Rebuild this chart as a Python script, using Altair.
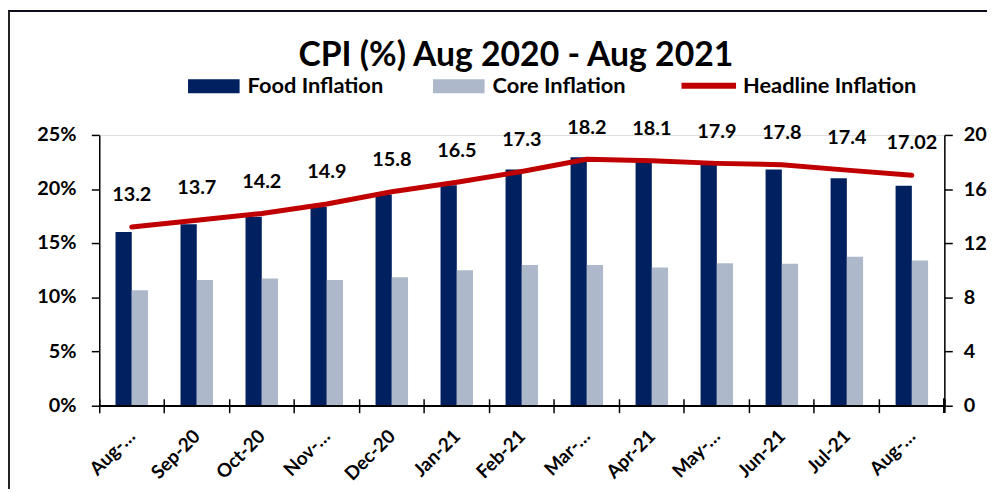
import altair as alt
import pandas as pd

months = ["Aug-20", "Sep-20", "Oct-20", "Nov-20", "Dec-20", "Jan-21", "Feb-21",
          "Mar-21", "Apr-21", "May-21", "Jun-21", "Jul-21", "Aug-21"]
food = [16.05, 16.75, 17.45, 18.35, 19.5, 20.35, 21.8, 22.95, 22.6, 22.3, 21.8, 21.0, 20.3]
core = [10.65, 11.6, 11.75, 11.6, 11.85, 12.5, 13.0, 13.0, 12.75, 13.15, 13.1, 13.75, 13.4]
headline = [13.2, 13.7, 14.2, 14.9, 15.8, 16.5, 17.3, 18.2, 18.1, 17.9, 17.8, 17.4, 17.02]
truncated = ["Aug-20", "Nov-20", "Mar-21", "May-21", "Aug-21"]
series_names = ["Food Inflation", "Core Inflation"]
line_name = "Headline Inflation"
left_ticks = [0, 5, 10, 15, 20, 25]
right_ticks = [0, 4, 8, 12, 16, 20]

FONT = "Lato"
W, H = 852, 273

bar_df = pd.DataFrame({
    "month": months * 2,
    "series": [series_names[0]] * len(months) + [series_names[1]] * len(months),
    "value": food + core,
})
line_df = pd.DataFrame({"month": months, "headline": headline, "series": line_name})
tick_df = pd.DataFrame({"value": left_ticks, "label": [f"{t}%" for t in left_ticks]})

trunc_list = ",".join("'" + t + "'" for t in truncated)
label_expr = f"indexof([{trunc_list}], datum.label) >= 0 ? slice(datum.label, 0, 4) + '\u2026' : datum.label"

x_enc = alt.X(
    "month:N", sort=months,
    scale=alt.Scale(paddingInner=0, paddingOuter=0),
    axis=alt.Axis(
        title=None, domain=False, tickSize=14, offset=-7, bandPosition=0,
        tickColor="black", tickWidth=1.5, labelAngle=-45, labelFontSize=19,
        labelFont=FONT, labelFontWeight="bold", labelColor="black",
        labelAlign="right", labelBaseline="top",
        labelPadding=14, labelOffset=-6, labelExpr=label_expr, labelLimit=200,
    ),
)

left_axis = alt.Axis(
    title=None, orient="left", values=left_ticks, labels=False, tickSize=8,
    domainColor="black", domainWidth=1.5, tickColor="black", tickWidth=1.5, grid=False,
)
left_scale = alt.Scale(domain=[0, 25], nice=False, zero=True)

bars = alt.Chart(bar_df).mark_bar().encode(
    x=x_enc,
    xOffset=alt.XOffset("series:N", sort=series_names,
                        scale=alt.Scale(domain=series_names, paddingInner=0, paddingOuter=1)),
    y=alt.Y("value:Q", scale=left_scale, axis=left_axis),
    color=alt.Color("series:N",
                    scale=alt.Scale(domain=series_names, range=["#002060", "#ADB9CA"]),
                    legend=alt.Legend(
                        title=None, orient="none", legendX=89.5, legendY=-75,
                        direction="horizontal", padding=0,
                        symbolType="M-1,-0.27L1,-0.27L1,0.27L-1,0.27Z",
                        symbolSize=2704, symbolStrokeWidth=0, symbolOpacity=1,
                        labelFont=FONT, labelFontSize=22, labelFontWeight="bold",
                        labelColor="black", labelOffset=8, columnPadding=50,
                        labelLimit=300,
                    )),
)

left_labels = alt.Chart(tick_df).mark_text(
    align="right", baseline="middle", fontSize=20, font=FONT, fontWeight="bold", color="black"
).encode(
    x=alt.value(-23),
    y=alt.Y("value:Q", scale=left_scale, axis=left_axis),
    text=alt.Text("label:N"),
)

zero_rule = alt.Chart(bar_df).mark_rule(color="black", strokeWidth=1.5).encode(
    y=alt.value(H), x=alt.value(0), x2=alt.value(W)
)

line = alt.Chart(line_df).mark_line(strokeWidth=5, strokeCap="round", strokeJoin="round").encode(
    x=x_enc,
    y=alt.Y("headline:Q",
            scale=alt.Scale(domain=[0, 20], nice=False, zero=True),
            axis=alt.Axis(
                title=None, orient="right", values=right_ticks, format="d",
                tickSize=8, labelPadding=11, labelAlign="left",
                labelFontSize=20, labelFont=FONT, labelFontWeight="bold",
                labelColor="black", domainColor="black", domainWidth=1.5,
                tickColor="black", tickWidth=1.5, grid=False,
            )),
    stroke=alt.Stroke("series:N",
                      scale=alt.Scale(domain=[line_name], range=["#C00000"]),
                      legend=alt.Legend(
                          title=None, orient="none", legendX=584, legendY=-80,
                          direction="horizontal", padding=0,
                          symbolType="stroke", symbolSize=3025, symbolStrokeWidth=6,
                          labelFont=FONT, labelFontSize=22, labelFontWeight="bold",
                          labelColor="black", labelOffset=4, labelLimit=300,
                      )),
)

labels = alt.Chart(line_df).mark_text(
    dy=-32, fontSize=20, font=FONT, fontWeight="bold", color="black", baseline="middle"
).encode(
    x=x_enc,
    y=alt.Y("headline:Q"),
    text=alt.Text("headline:Q", format=".2~f"),
)

end_tick = alt.Chart(line_df).mark_rule(color="black", strokeWidth=1.5).encode(
    x=alt.value(W), y=alt.value(H - 7), y2=alt.value(H + 7)
)

border_top = alt.Chart(line_df).mark_rule(color="#0d0d1a", strokeWidth=2).encode(
    x=alt.value(-92), x2=alt.value(W + 43), y=alt.value(-125)
)
border_left = alt.Chart(line_df).mark_rule(color="#222222", strokeWidth=1.5).encode(
    x=alt.value(-91.5), y=alt.value(-125), y2=alt.value(H + 84)
)

left = alt.layer(bars, left_labels, zero_rule)
right = alt.layer(line, labels, end_tick, border_top, border_left)

chart = alt.layer(left, right).resolve_scale(
    y="independent", color="independent", stroke="independent"
).properties(
    width=W, height=H,
    autosize=alt.AutoSizeParams(type="none"),
    padding={"left": 92, "top": 126, "right": 43, "bottom": 84},
    title=alt.TitleParams(
        "CPI (%) Aug 2020 - Aug 2021", font=FONT, fontSize=34, fontWeight="bold",
        color="black", anchor="middle", dx=-6, offset=6, baseline="alphabetic",
        dy=97,
    ),
).configure_view(stroke=None).configure(font=FONT, background="white")

chart.save("out.html", embed_options={"renderer": "svg", "actions": False})
